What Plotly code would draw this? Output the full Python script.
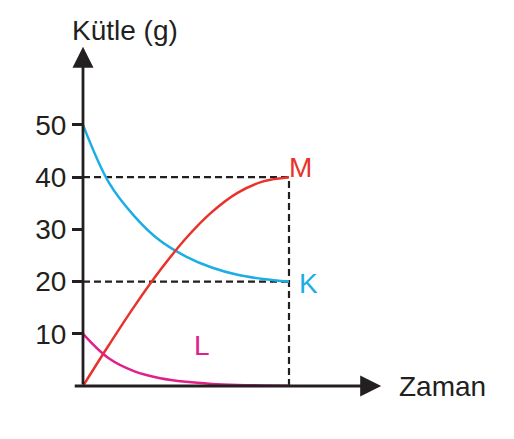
import plotly.graph_objects as go

# Data
time = [0, 0.5, 1.0, 1.5, 2.0, 2.5, 3.0, 3.5, 4.0]
mass_K = [50, 39.0, 32.5, 27.8, 24.8, 22.7, 21.3, 20.5, 20.0]
mass_M = [0, 7.8, 15.3, 22.2, 28.3, 33.3, 37.0, 39.2, 40.0]
mass_L = [10, 5.3, 2.8, 1.5, 0.8, 0.4, 0.2, 0.1, 0.05]
y_ticks = [10, 20, 30, 40, 50]

C_K = "#1aaee5"
C_M = "#e8322b"
C_L = "#e0218a"
C_TXT = "#231f20"
FONT = "Liberation Sans, Arial, Helvetica, sans-serif"
FS = 28

fig = go.Figure()

t_end = time[-1]
# dashed guide lines
dash_style = dict(color=C_TXT, width=2.2, dash="7px,4px")
fig.add_trace(go.Scatter(x=[0, t_end], y=[mass_M[-1], mass_M[-1]], mode="lines",
                         line=dash_style, hoverinfo="skip", showlegend=False))
fig.add_trace(go.Scatter(x=[0, t_end], y=[mass_K[-1], mass_K[-1]], mode="lines",
                         line=dash_style, hoverinfo="skip", showlegend=False))
fig.add_trace(go.Scatter(x=[t_end, t_end], y=[0, mass_M[-1]], mode="lines",
                         line=dash_style, hoverinfo="skip", showlegend=False))

for name, vals, col in [("K", mass_K, C_K), ("M", mass_M, C_M), ("L", mass_L, C_L)]:
    fig.add_trace(go.Scatter(x=time, y=vals, mode="lines", name=name,
                             line=dict(color=col, width=2.5, shape="spline", smoothing=1.0),
                             showlegend=False))

# axes arrows
x_tip = 5.79
y_tip = 65.0
fig.add_annotation(x=x_tip, y=0, ax=-0.19, ay=0, xref="x", yref="y", axref="x", ayref="y",
                   showarrow=True, arrowhead=2, arrowsize=1.5, arrowwidth=2.8,
                   arrowcolor=C_TXT, text="")
fig.add_annotation(x=0, y=y_tip, ax=0, ay=0, xref="x", yref="y", axref="x", ayref="y",
                   showarrow=True, arrowhead=2, arrowsize=1.5, arrowwidth=2.8,
                   arrowcolor=C_TXT, text="")

# axis titles
fig.add_annotation(x=-0.032, y=0.972, xref="paper", yref="paper", text="Kütle (g)", showarrow=False,
                   xanchor="left", yanchor="middle", font=dict(family=FONT, size=FS, color=C_TXT))
fig.add_annotation(x=6.1, y=0, xref="x", yref="y", text="Zaman", showarrow=False,
                   xanchor="left", yanchor="middle", font=dict(family=FONT, size=FS, color=C_TXT))

# series labels
fig.add_annotation(x=4.23, y=41.8, text="M", showarrow=False, xanchor="center", yanchor="middle",
                   font=dict(family=FONT, size=FS, color=C_M))
fig.add_annotation(x=4.37, y=19.7, text="K", showarrow=False, xanchor="center", yanchor="middle",
                   font=dict(family=FONT, size=FS, color=C_K))
fig.add_annotation(x=2.31, y=7.7, text="L", showarrow=False, xanchor="center", yanchor="middle",
                   font=dict(family=FONT, size=FS, color=C_L))

fig.update_layout(
    width=514, height=439,
    margin=dict(l=83, r=19, t=20, b=53),
    paper_bgcolor="white", plot_bgcolor="white",
    xaxis=dict(range=[0, 8.0], showgrid=False, zeroline=False, showline=False,
               showticklabels=False, ticks=""),
    yaxis=dict(range=[0, 70.1], showgrid=False, zeroline=False, showline=False,
               tickvals=y_ticks, ticktext=[str(v) for v in y_ticks],
               ticks="outside", ticklen=10, tickwidth=2.5, tickcolor=C_TXT,
               tickfont=dict(family=FONT, size=FS, color=C_TXT)),
)

fig.write_html("out.html")
